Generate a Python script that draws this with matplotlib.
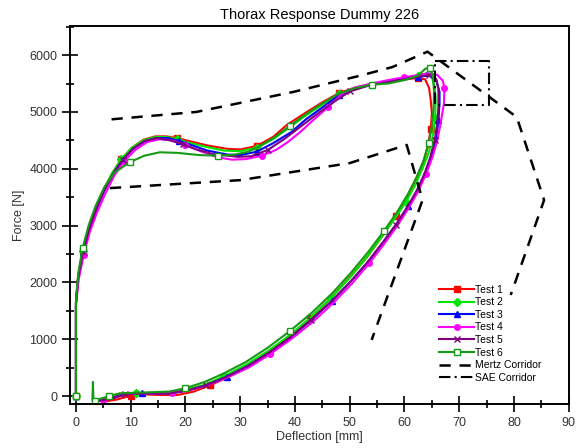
import matplotlib.pyplot as plt
from matplotlib.ticker import MultipleLocator

plt.rcParams['font.family'] = ['Liberation Sans', 'DejaVu Sans']

# deflection [mm] / force [N] for each test, loading then unloading
t1_x = [0, 0, 0, 0, 0.4, 1.2, 2.3, 3.6, 5.0, 6.6, 8.3, 10.2, 12.3, 14.5, 16.5, 18.5, 21, 24, 27.7, 30, 33, 36, 38.5,
        42, 45, 48, 51, 54, 57, 60, 62.5, 63.8, 64.5, 64.8, 65, 64.8, 64.3, 63.4, 62, 60.4, 58.4, 56, 53.2, 50, 46.5,
        42.8, 39, 35, 31, 27.6, 24.5, 21.5, 18.5, 15.5, 12.5, 10, 7.5, 5.5, 4]
t1_y = [0, 320, 1290, 1650, 2100, 2550, 2950, 3300, 3620, 3920, 4170, 4370, 4510, 4570, 4570, 4540, 4480, 4410, 4350,
        4340, 4400, 4560, 4770, 4990, 5170, 5330, 5430, 5490, 5530, 5570, 5600, 5570, 5420, 5200, 4980, 4700, 4400,
        4100, 3800, 3480, 3170, 2820, 2450, 2090, 1720, 1370, 1050, 760, 500, 330, 190, 80, 20, 20, 30, 10, -60, -90,
        -80]

t2_x = [0, 0, 0, 0, 0.4, 1.2, 2.3, 3.6, 5.0, 6.6, 8.3, 10.2, 12.3, 14.5, 16.5, 18.5, 21, 24, 27, 30, 33, 36, 39, 42,
        45, 48, 51, 54, 57, 60, 62.5, 64, 65, 65.5, 65.7, 65.6, 65.2, 64.5, 63.4, 62, 60.3, 58.2, 55.8, 53, 50, 46.5,
        42.8, 39, 35, 31, 27, 23.5, 20, 17, 14, 11, 8.5, 6.5, 5, 3.5]
t2_y = [0, 330, 1280, 1650, 2100, 2550, 2950, 3300, 3620, 3920, 4170, 4370, 4500, 4560, 4560, 4520, 4450, 4380, 4320,
        4310, 4370, 4520, 4730, 4940, 5130, 5310, 5420, 5490, 5540, 5590, 5640, 5680, 5620, 5450, 5200, 4900, 4600,
        4300, 4030, 3720, 3420, 3120, 2800, 2430, 2080, 1720, 1380, 1070, 790, 550, 350, 200, 110, 50, 40, 60, 40,
        -20, -60, -80]

t3_x = [0, 0, 0, 0, 0.4, 1.3, 2.4, 3.7, 5.1, 6.7, 8.5, 10.4, 12.5, 14.7, 16.8, 18.8, 21, 24, 27.7, 30, 33, 36, 39.4,
        42, 45, 48, 51, 54, 57, 60, 62.5, 64.5, 65.8, 66.4, 66.4, 66.2, 65.8, 65, 63.9, 62.5, 60.7, 58.6, 56.2, 53.4,
        50.3, 46.8, 43.1, 39.3, 35.4, 31.4, 27.5, 24, 20.5, 17.5, 15, 12, 9, 7, 5, 3.5]
t3_y = [0, 300, 1250, 1630, 2080, 2530, 2930, 3280, 3600, 3900, 4150, 4350, 4480, 4540, 4540, 4490, 4420, 4320, 4250,
        4240, 4300, 4450, 4650, 4870, 5080, 5290, 5410, 5480, 5530, 5580, 5620, 5640, 5560, 5350, 5150, 4850, 4550,
        4250, 3950, 3650, 3350, 3040, 2720, 2370, 2030, 1680, 1350, 1040, 770, 530, 340, 200, 100, 50, 50, 50, 40,
        -20, -60, -70]

t4_x = [0, 0, 0, 0, 0.5, 1.4, 2.5, 3.8, 5.3, 7.0, 8.8, 10.8, 13, 15.3, 17.5, 20, 23, 26, 28.5, 31, 34, 36.5, 38.7,
        41, 43.5, 46, 48.7, 51, 54, 57, 60, 62.5, 64.5, 66, 67, 67.3, 67.2, 66.6, 66.0, 65.1, 63.9, 62.5, 60.7, 58.7,
        56.3, 53.6, 50.5, 47.0, 43.3, 39.4, 35.5, 31.5, 27.5, 24, 20.5, 17.5, 14.5, 11.5, 9, 7, 5, 3.5]
t4_y = [0, 260, 1200, 1600, 2050, 2480, 2880, 3220, 3550, 3880, 4130, 4330, 4470, 4520, 4500, 4420, 4300, 4200, 4160,
        4170, 4230, 4330, 4470, 4650, 4870, 5080, 5330, 5430, 5500, 5560, 5610, 5650, 5680, 5650, 5550, 5420, 5150,
        4800, 4500, 4200, 3900, 3600, 3300, 3000, 2680, 2340, 1990, 1640, 1310, 1010, 740, 500, 320, 190, 100, 60,
        40, 50, 30, -30, -70, -80]

t5_x = [0, 0, 0, 0, 0.4, 1.3, 2.4, 3.7, 5.1, 6.8, 8.6, 10.5, 12.6, 14.8, 17.2, 19.5, 22, 25, 29.6, 32, 35, 38, 41,
        44, 47, 50, 53, 56, 59, 62, 64.5, 65.8, 66.2, 66.2, 66, 65.5, 64.7, 63.6, 62.2, 60.5, 58.4, 56, 53.2, 50.1,
        46.6, 42.9, 39.1, 35.2, 31.2, 27.3, 23.8, 20.3, 17.3, 14.5, 11.5, 9, 7, 5, 3.5]
t5_y = [0, 310, 1270, 1640, 2090, 2540, 2940, 3290, 3610, 3910, 4160, 4360, 4490, 4540, 4500, 4430, 4340, 4260, 4210,
        4220, 4330, 4520, 4740, 4960, 5170, 5360, 5450, 5510, 5560, 5610, 5650, 5580, 5400, 5100, 4800, 4500, 4200,
        3900, 3610, 3320, 3010, 2700, 2350, 2010, 1660, 1340, 1030, 760, 520, 330, 190, 100, 50, 40, 50, 30, -30,
        -70, -80]

t6_x = [0, 0, 0, 0, 0.4, 1.2, 2.3, 3.6, 5.2, 7.0, 9.9, 12.5, 15.3, 18.5, 22.6, 26, 29, 31.5, 34, 36.5, 39, 42, 45,
        48, 51, 54, 57, 60, 62.5, 63.8, 64.6, 65.2, 65.4, 65.3, 65, 64.4, 63.5, 62.2, 60.6, 58.6, 56.2, 53.4, 50.3,
        46.8, 43, 39, 35, 31, 27, 23.5, 20, 17, 14, 11, 8, 6, 4, 3.2, 3.1, 3.0, 3.5]
t6_y = [0, 340, 1290, 1700, 2150, 2600, 3000, 3350, 3680, 3930, 4120, 4230, 4290, 4280, 4240, 4230, 4250, 4300, 4420,
        4570, 4750, 4960, 5150, 5320, 5420, 5480, 5500, 5560, 5640, 5760, 5780, 5620, 5350, 5050, 4750, 4450, 4150,
        3850, 3550, 3230, 2900, 2540, 2180, 1810, 1460, 1140, 850, 600, 400, 250, 140, 80, 70, 60, 50, 0, -60, -60,
        250, -70, -80]

# Mertz corridor: outer and inner boundaries
mertz_out_x = [6.5, 22, 39.6, 52, 57.8, 64.2, 80.5, 85.5, 79.4]
mertz_out_y = [4870, 5000, 5350, 5640, 5790, 6060, 4910, 3450, 1780]
mertz_in_x = [6.2, 30, 50, 60.4, 63.3, 54.0]
mertz_in_y = [3660, 3800, 4100, 4420, 3450, 990]

# SAE corridor box
sae_x = [65.5, 75.5, 75.5, 65.5, 65.5]
sae_y = [5900, 5900, 5120, 5120, 5900]

tests = [
    ('Test 1', t1_x, t1_y, '#ff0000', 's', '#ff0000'),
    ('Test 2', t2_x, t2_y, '#00e600', 'D', '#00e600'),
    ('Test 3', t3_x, t3_y, '#0000ff', '^', '#0000ff'),
    ('Test 4', t4_x, t4_y, '#ff00ff', 'o', '#ff00ff'),
    ('Test 5', t5_x, t5_y, '#800080', 'x', '#800080'),
    ('Test 6', t6_x, t6_y, '#159a15', 's', 'white'),
]

fig = plt.figure(figsize=(5.78, 4.48), dpi=100)
ax = fig.add_axes([0.121, 0.098, 0.863, 0.845])

for lab, xs, ys, col, mk, fc in tests:
    ax.plot(xs, ys, color=col, lw=1.5, marker=mk, markersize=4, markerfacecolor=fc,
            markeredgecolor=col, markeredgewidth=1.0, markevery=5, label=lab)

ax.plot(mertz_out_x, mertz_out_y, color='black', lw=1.8, dashes=(4.5, 3.5), label='Mertz Corridor')
ax.plot(mertz_in_x, mertz_in_y, color='black', lw=1.8, dashes=(4.5, 3.5))
ax.plot(sae_x, sae_y, color='black', lw=1.5, dashes=(5.5, 2, 1, 2), label='SAE Corridor')

ax.set_xlim(-1.1, 90)
ax.set_ylim(-140, 6520)
ax.xaxis.set_major_locator(MultipleLocator(10))
ax.xaxis.set_minor_locator(MultipleLocator(5))
ax.yaxis.set_major_locator(MultipleLocator(1000))
ax.yaxis.set_minor_locator(MultipleLocator(500))
ax.tick_params(which='major', direction='inout', length=11, width=1.2, labelsize=9, labelcolor='#333333')
ax.tick_params(which='minor', direction='inout', length=6, width=1.2)
ax.tick_params(top=False, right=False, which='both')
for s in ax.spines.values():
    s.set_linewidth(1.4)

ax.set_title('Thorax Response Dummy 226', fontsize=10.5, pad=5)
ax.set_xlabel('Deflection [mm]', fontsize=9, color='#333333', labelpad=2)
ax.set_ylabel('Force [N]', fontsize=9, color='#333333', labelpad=3)

ax.legend(loc='upper left', bbox_to_anchor=(0.725, 0.335), frameon=False, fontsize=7.5,
          handlelength=3.4, handletextpad=0.1, labelspacing=0.25, borderpad=0.2)

fig.savefig('out.png', dpi=100)
